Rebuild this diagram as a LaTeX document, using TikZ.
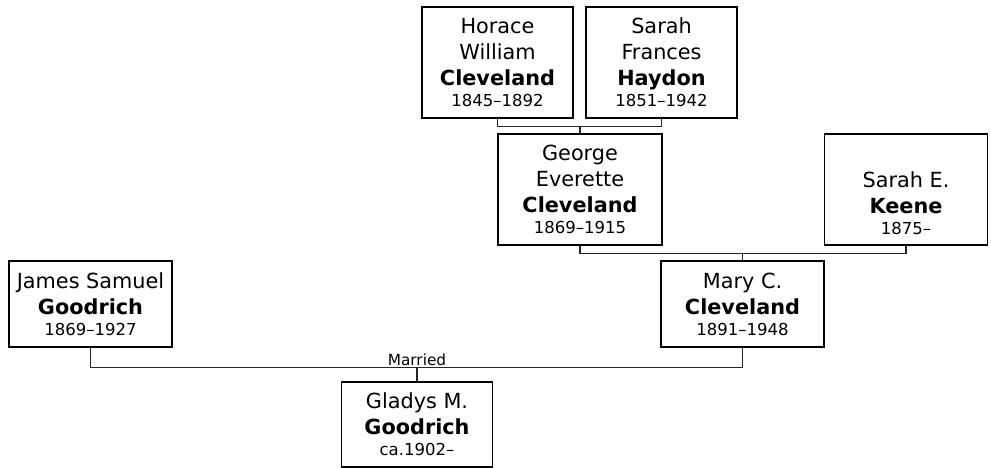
\documentclass[tikz,border=0pt]{standalone}
\usepackage{fontspec}
\setmainfont{DejaVu Sans}
\newcommand{\dt}[1]{{\fontsize{16.5}{20}\selectfont #1}}
\begin{document}
\begin{tikzpicture}[x=1pt,y=-1pt,
  person/.style={draw=black,line width=1.1pt,align=center,inner sep=0pt,
    font=\fontsize{20.8}{26}\selectfont},
  link/.style={draw=black!85,line width=1.1pt},
  lbl/.style={font=\fontsize{15.3}{18}\selectfont,inner sep=2pt}]
\useasboundingbox (0,0) rectangle (991,468);
\node[person,minimum width=151,minimum height=111] (horace) at (497.5,62.5)
  {Horace\\William\\\textbf{Cleveland}\\[-5pt]\dt{1845–1892}};
\node[person,minimum width=151,minimum height=111] (sarahf) at (661.5,62.5)
  {Sarah\\Frances\\\textbf{Haydon}\\[-5pt]\dt{1851–1942}};
\node[person,minimum width=164,minimum height=111] (george) at (580,189.5)
  {George\\Everette\\\textbf{Cleveland}\\[-5pt]\dt{1869–1915}};
\node[person,minimum width=163,minimum height=111] (keene) at (906,189.5)
  {\strut\\Sarah E.\\\textbf{Keene}\\[-5pt]\dt{1875–}};
\node[person,minimum width=163,minimum height=86] (mary) at (742.5,304)
  {Mary C.\\\textbf{Cleveland}\\[-5pt]\dt{1891–1948}};
\node[person,minimum width=163,minimum height=86] (james) at (90.5,304)
  {James Samuel\\\textbf{Goodrich}\\[-5pt]\dt{1869–1927}};
\node[person,minimum width=151,minimum height=85] (gladys) at (417,424.5)
  {Gladys M.\\\textbf{Goodrich}\\[-5pt]\dt{ca.1902–}};

\draw[link] (horace.south) -- ++(0,8) coordinate (hb) -| (sarahf.south);
\draw[link] (george.north) -- (george.north |- hb);
\draw[link] (george.south) -- ++(0,8) coordinate (gb) -| (keene.south);
\draw[link] (mary.north) -- (mary.north |- gb);
\draw[link] (james.south) -- ++(0,20) coordinate (jb) -| (mary.south);
\draw[link] (gladys.north) -- (gladys.north |- jb) coordinate (mj);
\node[lbl,anchor=south] (married) at (mj) {Married};
\end{tikzpicture}
\end{document}
